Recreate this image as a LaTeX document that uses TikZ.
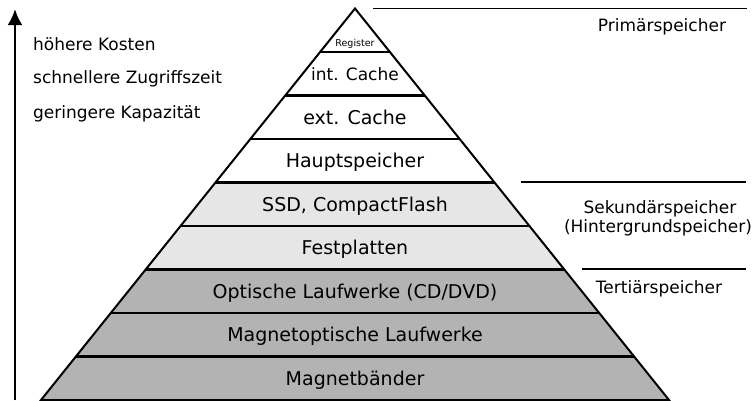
\documentclass[tikz,border=0pt]{standalone}
\usepackage{fontspec}
\setmainfont{DejaVu Sans}
\usetikzlibrary{arrows.meta,calc}
\definecolor{bandlight}{HTML}{E6E6E6}
\definecolor{banddark}{HTML}{B3B3B3}
\begin{document}
\begin{tikzpicture}[x=1pt,y=-1pt,
  lvl/.style={anchor=base,inner sep=0pt,font=\fontsize{19}{22}\selectfont},
  side/.style={anchor=base,inner sep=0pt,font=\fontsize{17}{20}\selectfont},
  note/.style={anchor=base west,inner sep=0pt,font=\fontsize{17}{20}\selectfont},
  sep/.style={line width=2.2pt},
  rule/.style={line width=1.5pt}]
\useasboundingbox (0,0) rectangle (756,400);

% pyramid corners and the level boundaries on both flanks
\coordinate (apex) at (355,8.5);
\coordinate (bl) at (41,400);
\coordinate (br) at (669,400);
\foreach \k in {0,...,9}{
  \coordinate (L\k) at ($(apex)!\k/9!(bl)$);
  \coordinate (R\k) at ($(apex)!\k/9!(br)$);
}

% band fills
\fill[white] (L0) -- (L4) -- (R4) -- cycle;
\fill[bandlight] (L4) -- (L6) -- (R6) -- (R4) -- cycle;
\fill[banddark] (L6) -- (L9) -- (R9) -- (R6) -- cycle;

% level separators and outline
\foreach \k in {1,...,8}{\draw[sep] (L\k) -- (R\k);}
\draw[line width=2pt,line join=miter] (L9) -- (apex) -- (R9) -- cycle;

% level labels
\node[anchor=base,inner sep=0pt,font=\fontsize{9.5}{11}\selectfont] (reg) at (355,46) {Register};
\node[lvl,font=\fontsize{17}{20}\selectfont] (icache) at (355,80.5) {int. Cache};
\node[lvl] (ecache) at (355,124.5) {ext. Cache};
\node[lvl] (haupt) at (355,167.5) {Hauptspeicher};
\node[lvl] (ssd) at (355,211) {SSD, CompactFlash};
\node[lvl] (fest) at (355,254.5) {Festplatten};
\node[lvl] (opt) at (355,298) {Optische Laufwerke (CD/DVD)};
\node[lvl] (mo) at (355,341.5) {Magnetoptische Laufwerke};
\node[lvl] (band) at (355,385) {Magnetbänder};

% storage class rules and labels
\coordinate (p1) at (373,8.3);  \coordinate (p2) at (747,8.3);
\coordinate (s1) at (521,182);  \coordinate (s2) at (746,182);
\coordinate (t1) at (582,269);  \coordinate (t2) at (746,269);
\draw[rule] (p1) -- (p2);
\draw[rule] (s1) -- (s2);
\draw[rule] (t1) -- (t2);
\node[side] (prim) at (662,31) {Primärspeicher};
\node[side] (sek) at (660,213) {Sekundärspeicher};
\node[side] (hint) at (658,232.5) {(Hintergrundspeicher)};
\node[side] (tert) at (659,293) {Tertiärspeicher};

% direction arrow with notes
\coordinate (a0) at (15,400);
\coordinate (a1) at (15,9);
\draw[line width=2.8pt,-{Latex[length=16pt,width=15pt]}] (a0) -- (a1);
\node[note] (kosten) at (33,50) {höhere Kosten};
\node[note] (zeit) at (33,83.5) {schnellere Zugriffszeit};
\node[note] (kap) at (33,118) {geringere Kapazität};
\end{tikzpicture}
\end{document}
